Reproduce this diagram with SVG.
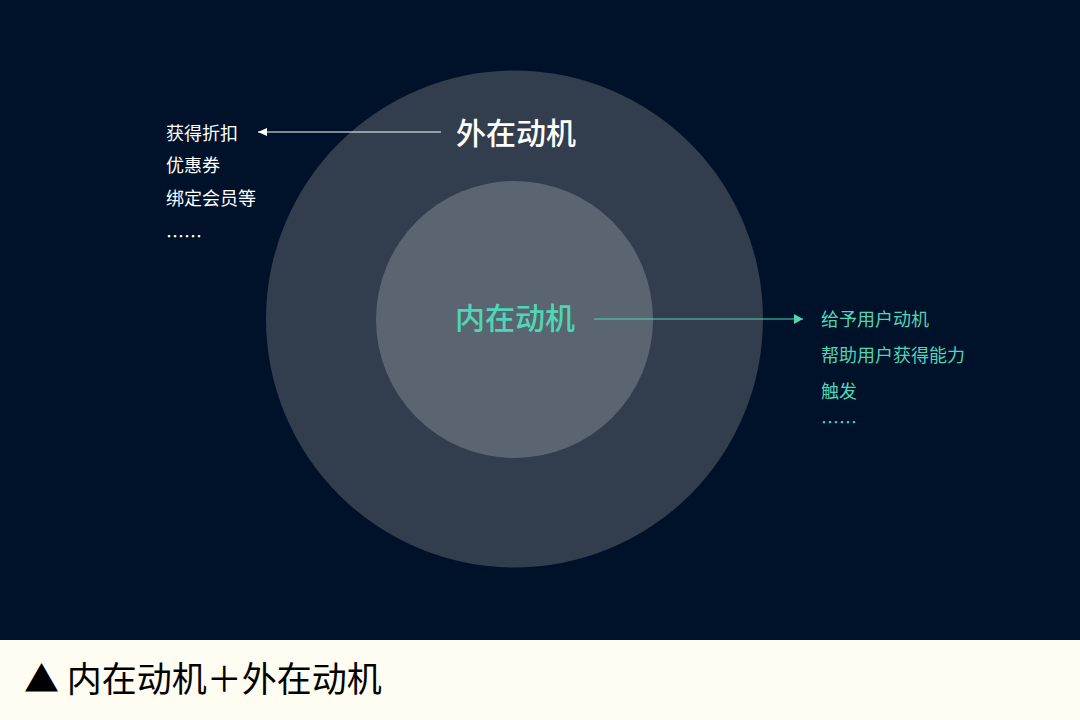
<svg xmlns="http://www.w3.org/2000/svg" width="1080" height="720" viewBox="0 0 1080 720">
<style>
.t{font-family:"Noto Sans CJK SC","Noto Sans",sans-serif}
.w{fill:#ffffff}
.g{fill:#4fd6b6}
.s{font-size:18px}
.b{font-size:30px;font-weight:500}
</style>
<defs>
<marker id="aw" markerWidth="10" markerHeight="8" refX="9" refY="4" orient="auto" markerUnits="userSpaceOnUse"><path d="M0,0 L9,4 L0,8 Z" fill="#ffffff"/></marker>
<marker id="ag" markerWidth="10" markerHeight="10" refX="9" refY="5" orient="auto" markerUnits="userSpaceOnUse"><path d="M0,0 L9,5 L0,10 Z" fill="#4fd6b6"/></marker>
</defs>
<rect width="1080" height="720" fill="#00112a"/>
<g id="outer"><circle cx="514.5" cy="319" r="248.5" fill="#323d4d"/><text class="t w b" x="456" y="144">外在动机</text></g>
<g id="inner"><circle cx="514.5" cy="319.5" r="138.5" fill="#5b6471"/><text class="t g b" x="455" y="329">内在动机</text></g>
<g id="extlist" class="t w s">
<text x="166" y="140">获得折扣</text>
<text x="166" y="172">优惠券</text>
<text x="166" y="205">绑定会员等</text>
<text x="166" y="243">……</text>
</g>
<g id="intlist" class="t g s">
<text x="821" y="326">给予用户动机</text>
<text x="821" y="362">帮助用户获得能力</text>
<text x="821" y="398">触发</text>
<text x="821" y="429">……</text>
</g>
<g id="connectors">
<line x1="441" y1="132" x2="258" y2="132" stroke="#ffffff" stroke-width="1.2" marker-end="url(#aw)"/>
<line x1="594" y1="319" x2="803" y2="319" stroke="#4fd6b6" stroke-width="1.2" marker-end="url(#ag)"/>
</g>
<g id="caption">
<rect x="0" y="640" width="1080" height="80" fill="#fffdf2"/>
<text class="t" x="24" y="692" font-size="35" fill="#000000">▲ 内在动机＋外在动机</text>
</g>
</svg>
